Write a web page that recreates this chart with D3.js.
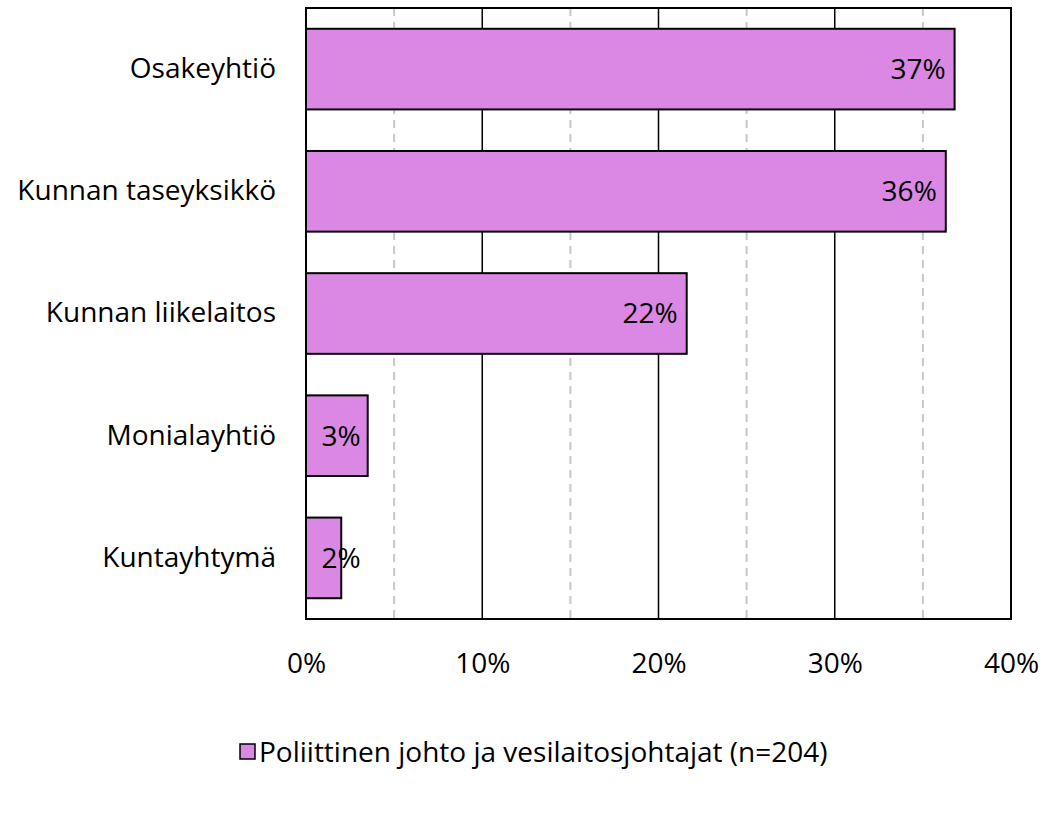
<!DOCTYPE html>
<html>
<head>
<meta charset="utf-8">
<script src="https://cdn.jsdelivr.net/npm/d3@7"></script>
<style>
  body { margin: 0; background: #fff; }
  text { font-family: "Open Sans", "Noto Sans", sans-serif; fill: #000; }
</style>
</head>
<body>
<svg id="chart" width="1064" height="821"></svg>
<script>
// data
const categories = ["Osakeyhtiö", "Kunnan taseyksikkö", "Kunnan liikelaitos", "Monialayhtiö", "Kuntayhtymä"];
const values = [36.8, 36.3, 21.6, 3.5, 2.0];
const valueLabels = ["37%", "36%", "22%", "3%", "2%"];
const xTicks = [0, 10, 20, 30, 40];
const minorTicks = [5, 15, 25, 35];
const seriesName = "Poliittinen johto ja vesilaitosjohtajat (n=204)";

const barColor = "#da88e3";
const fontSize = 28;

const margin = { top: 8, right: 53, bottom: 202, left: 306 },
  width = 1064,
  height = 821,
  innerWidth = width - margin.left - margin.right,
  innerHeight = height - margin.top - margin.bottom;

const svg = d3.select("#chart");
const g = svg.append("g").attr("transform", `translate(${margin.left},${margin.top})`);

let xScale = d3.scaleLinear().domain([0, 40]).range([0, innerWidth]);
let yScale = d3.scaleBand().domain(categories).range([0, innerHeight]).paddingInner(0.34).paddingOuter(0.17);

// dashed minor gridlines
g.selectAll(".minor").data(minorTicks).join("line").attr("class", "minor")
  .attr("x1", d => xScale(d)).attr("x2", d => xScale(d))
  .attr("y1", 0).attr("y2", innerHeight)
  .attr("stroke", "#c8c8c8").attr("stroke-width", 2).attr("stroke-dasharray", "8,6");

// solid major gridlines
g.selectAll(".major").data(xTicks.slice(1, -1)).join("line").attr("class", "major")
  .attr("x1", d => xScale(d)).attr("x2", d => xScale(d))
  .attr("y1", 0).attr("y2", innerHeight)
  .attr("stroke", "#000").attr("stroke-width", 1.5);

// bars
const data = categories.map((c, i) => ({ cat: c, v: values[i], label: valueLabels[i] }));
g.selectAll(".bar").data(data).join("rect").attr("class", "bar")
  .attr("x", 0).attr("y", d => yScale(d.cat))
  .attr("width", d => xScale(d.v)).attr("height", yScale.bandwidth())
  .attr("fill", barColor).attr("stroke", "#000").attr("stroke-width", 2);

// value labels, inside end (clamped for the short bars)
g.selectAll(".vlabel").data(data).join("text").attr("class", "vlabel")
  .attr("x", d => Math.max(xScale(d.v) - 9, xScale(3.1)))
  .attr("y", d => yScale(d.cat) + yScale.bandwidth() / 2)
  .attr("dy", "0.35em").attr("text-anchor", "end")
  .attr("font-size", fontSize).text(d => d.label);

// plot border
g.append("rect").attr("x", 0).attr("y", 0).attr("width", innerWidth).attr("height", innerHeight)
  .attr("fill", "none").attr("stroke", "#000").attr("stroke-width", 2);

// x axis
g.append("g").attr("transform", `translate(0,${innerHeight})`)
  .call(d3.axisBottom(xScale).tickValues(xTicks).tickSize(0).tickPadding(34).tickFormat(d => d + "%"))
  .call(a => a.select(".domain").remove())
  .selectAll("text").attr("font-size", fontSize).style("font-family", null);

// y axis
g.append("g")
  .call(d3.axisLeft(yScale).tickSize(0).tickPadding(30))
  .call(a => a.select(".domain").remove())
  .selectAll("text").attr("font-size", fontSize).style("font-family", null);

// legend
const legend = svg.append("g").attr("transform", "translate(240,752)");
legend.append("rect").attr("x", 0).attr("y", -8).attr("width", 15).attr("height", 15)
  .attr("fill", barColor).attr("stroke", "#000").attr("stroke-width", 1.5);
legend.append("text").attr("x", 19).attr("y", 0).attr("dy", "0.35em")
  .attr("font-size", fontSize).text(seriesName);
</script>
</body>
</html>
